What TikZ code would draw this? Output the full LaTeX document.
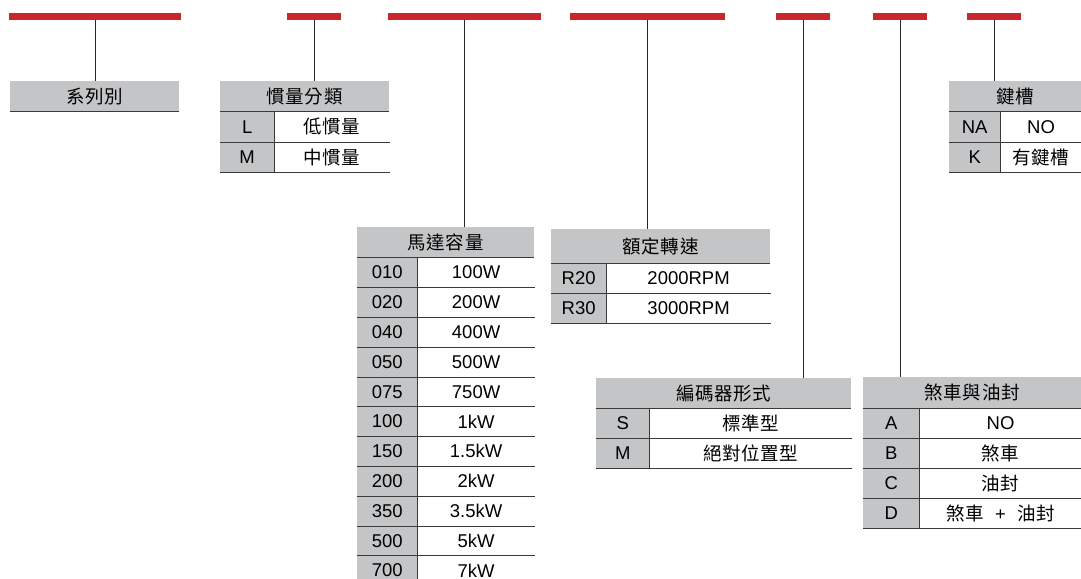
\documentclass[tikz,border=0pt]{standalone}
\usepackage{fontspec}
\setmainfont{Liberation Sans}
\newfontfamily\cjk[LetterSpace=3]{Noto Sans CJK TC}
\usetikzlibrary{calc}
\definecolor{barred}{HTML}{C8272E}
\definecolor{cellgray}{HTML}{C4C5C7}
\definecolor{rulegray}{HTML}{3A3A3A}
\tikzset{
  bar/.style={fill=barred, draw=none, inner sep=0pt, minimum height=7pt, anchor=north west},
  conn/.style={draw=black!85, line width=1.2pt},
  rule/.style={draw=rulegray, line width=1pt},
  hdrcell/.style={fill=cellgray, draw=none, inner sep=0pt, font=\fontsize{18.5}{21}\selectfont},
  keycell/.style={fill=cellgray, draw=none, inner sep=0pt, anchor=north west, font=\fontsize{18.5}{21}\selectfont},
  valcell/.style={fill=white, draw=none, inner sep=0pt, anchor=north west, font=\fontsize{18.5}{21}\selectfont},
}
% name, x, y, keyw, totw, hdrh, rowh, header, rows
\newcommand\mktable[9]{%
  \node[hdrcell, minimum width=#5pt, minimum height=#6pt, anchor=north west] (#1h) at (#2,#3) {#8};
  \foreach \k/\v [count=\i] in {#9} {
    \node[keycell, minimum width=#4pt, minimum height=#7pt] (#1k\i) at ($(#1h.south west)+(0,{(\i-1)*#7})$) {\k};
    \node[valcell, minimum width={(#5-#4)*1pt}, minimum height=#7pt] (#1v\i) at (#1k\i.north east) {\v};
  }
  \foreach \k/\v [count=\i] in {#9} {
    \draw[rule] (#1k\i.south west) -- (#1v\i.south east);
    \draw[rule] (#1k\i.north east) -- (#1k\i.south east);
  }
  \draw[rule] (#1h.south west) -- (#1h.south east);
}
\begin{document}
\begin{tikzpicture}[x=1pt,y=-1pt]
\useasboundingbox (0,0) rectangle (1081,578);
% red bars
\node[bar, minimum width=172pt] (b1) at (9,13) {};
\node[bar, minimum width=54pt] (b2) at (287,13) {};
\node[bar, minimum width=153pt] (b3) at (388,13) {};
\node[bar, minimum width=155pt] (b4) at (570,13) {};
\node[bar, minimum width=54pt] (b5) at (776,13) {};
\node[bar, minimum width=54pt] (b6) at (873,13) {};
\node[bar, minimum width=54pt] (b7) at (967,13) {};
% table 1
\node[hdrcell, minimum width=169pt, minimum height=30pt, anchor=north west] (t1h) at (10,81) {\cjk 系列別};
\draw[rule] (t1h.south west) -- (t1h.south east);
% table 2
\mktable{t2}{220}{81}{54}{169}{30}{30.5}{\cjk 慣量分類}{L/{\cjk 低慣量},M/{\cjk 中慣量}}
% table 3
\mktable{t3}{357}{227}{60}{177}{30}{29.8}{\cjk 馬達容量}{010/100W,020/200W,040/400W,050/500W,075/750W,100/1kW,150/1.5kW,200/2kW,350/3.5kW,500/5kW,700/7kW}
% table 4
\mktable{t4}{551}{229}{55}{219}{34}{30}{\cjk 額定轉速}{R20/2000RPM,R30/3000RPM}
% table 5
\mktable{t5}{596}{378}{53}{255}{30}{30}{\cjk 編碼器形式}{S/{\cjk 標準型},M/{\cjk 絕對位置型}}
% table 6
\mktable{t6}{949}{81}{51}{132}{30}{30.5}{\cjk 鍵槽}{NA/NO,K/{\cjk 有鍵槽}}
% table 7
\mktable{t7}{863}{377}{56}{218}{31}{30}{\cjk 煞車與油封}{A/NO,B/{\cjk 煞車},C/{\cjk 油封},D/{{\cjk 煞車}\hspace{0.6em}+\hspace{0.6em}{\cjk 油封}}}
% connectors
\draw[conn] (b1.south) -- (b1.south |- t1h.north);
\draw[conn] (b2.south) -- (b2.south |- t2h.north);
\draw[conn] (b3.south) -- (b3.south |- t3h.north);
\draw[conn] (b4.south) -- (b4.south |- t4h.north);
\draw[conn] (b5.south) -- (b5.south |- t5h.north);
\draw[conn] (b6.south) -- (b6.south |- t7h.north);
\draw[conn] (b7.south) -- (b7.south |- t6h.north);
\end{tikzpicture}
\end{document}
